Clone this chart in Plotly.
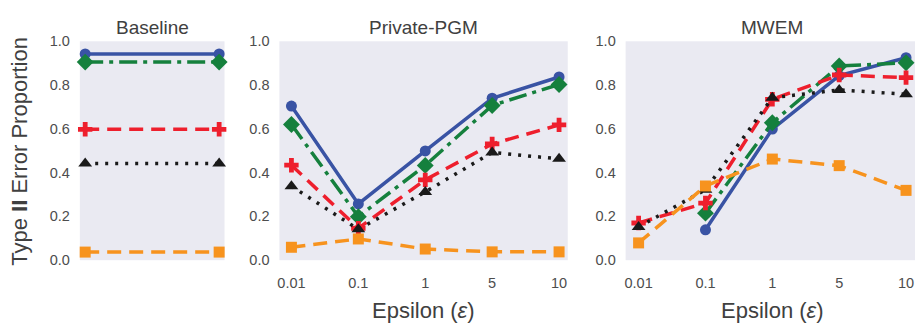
import plotly.graph_objects as go

# ---------------- data ----------------
eps_labels = ["0.01", "0.1", "1", "5", "10"]
baseline_x = [0, 1]

series_names = ["S1", "S2", "S3", "S4", "S5"]

baseline_blue = [0.942, 0.942]
baseline_green = [0.905, 0.905]
baseline_red = [0.598, 0.598]
baseline_black = [0.442, 0.442]
baseline_orange = [0.037, 0.037]

pgm_blue = [0.704, 0.257, 0.499, 0.740, 0.837]
pgm_green = [0.620, 0.199, 0.433, 0.707, 0.803]
pgm_red = [0.434, 0.146, 0.367, 0.531, 0.618]
pgm_black = [0.338, 0.141, 0.312, 0.492, 0.463]
pgm_orange = [0.059, 0.097, 0.051, 0.038, 0.038]

mwem_blue = [None, 0.139, 0.599, 0.843, 0.925]
mwem_green = [None, 0.215, 0.628, 0.887, 0.902]
mwem_red = [0.170, 0.261, 0.735, 0.846, 0.834]
mwem_black = [0.152, 0.322, 0.742, 0.778, 0.758]
mwem_orange = [0.079, 0.339, 0.462, 0.432, 0.319]

y_ticks = [0.0, 0.2, 0.4, 0.6, 0.8, 1.0]

# ---------------- styles ----------------
styles = [
    dict(color="#3953A4", dash="solid", symbol="circle", size=11),
    dict(color="#15803D", dash="18px,6px,4px,6px", symbol="diamond", size=13),
    dict(color="#EE1F2D", dash="14px,8px", symbol="cross", size=12),
    dict(color="#1A1A1A", dash="3px,7px", symbol="triangle-up", size=12),
    dict(color="#F7931E", dash="14px,8px", symbol="square", size=11),
]

panels = [
    ("x", "y", baseline_x, [baseline_blue, baseline_green, baseline_red, baseline_black, baseline_orange]),
    ("x2", "y2", list(range(len(eps_labels))), [pgm_blue, pgm_green, pgm_red, pgm_black, pgm_orange]),
    ("x3", "y3", list(range(len(eps_labels))), [mwem_blue, mwem_green, mwem_red, mwem_black, mwem_orange]),
]

fig = go.Figure()
for xa, ya, xs, ser in panels:
    for name, ys, st in zip(series_names, ser, styles):
        fig.add_trace(go.Scatter(
            x=xs, y=ys, xaxis=xa, yaxis=ya, name=name, mode="lines+markers",
            line=dict(color=st["color"], width=3.5, dash=st["dash"]),
            marker=dict(symbol=st["symbol"], size=st["size"], color=st["color"],
                        line=dict(width=0)),
            showlegend=False, connectgaps=False, cliponaxis=False,
        ))

W, H = 915, 331
top, bottom = 35, 265
yd = [1 - bottom / H, 1 - top / H]
font_fam = "Liberation Sans, Arial, sans-serif"
tick_font = dict(family=font_fam, size=14.5, color="#4D4D4D")

common_y = dict(range=[0, 1], tickvals=y_ticks, ticktext=[f"{v:.1f}" for v in y_ticks],
                showgrid=False, zeroline=False, showline=False, ticks="outside",
                ticklen=6, tickcolor="rgba(0,0,0,0)", tickfont=tick_font, fixedrange=True)
common_x = dict(showgrid=False, zeroline=False, showline=False, ticks="outside",
                ticklen=9, tickcolor="rgba(0,0,0,0)", tickfont=tick_font,
                ticklabeloverflow="allow")

fig.update_layout(
    width=W, height=H,
    margin=dict(l=0, r=0, t=0, b=0),
    paper_bgcolor="white",
    plot_bgcolor="#EAEAF2",
    font=dict(family=font_fam, color="#404040"),
    xaxis=dict(domain=[78 / W, 223 / W], range=[-0.04, 1.04], showticklabels=False,
               showgrid=False, zeroline=False, showline=False, ticks=""),
    yaxis=dict(domain=yd, anchor="x", **common_y),
    xaxis2=dict(domain=[278 / W, 567 / W], range=[-0.18, 4.13], tickvals=list(range(5)),
                ticktext=eps_labels, anchor="y2", **common_x),
    yaxis2=dict(domain=yd, anchor="x2", **common_y),
    xaxis3=dict(domain=[625 / W, 1.0], range=[-0.194, 4.134], tickvals=list(range(5)),
                ticktext=eps_labels, anchor="y3", **common_x),
    yaxis3=dict(domain=yd, anchor="x3", **common_y),
)

title_font = dict(family=font_fam, size=19, color="#404040")
for txt, cx in [("Baseline", 150.5), ("Private-PGM", 422.5), ("MWEM", 772)]:
    fig.add_annotation(text=txt, x=cx / W, y=1 - 20 / H, xref="paper", yref="paper",
                       showarrow=False, font=title_font, xanchor="center", yanchor="middle")

axis_title_font = dict(family=font_fam, size=22, color="#404040")
for cx in [422.5, 772]:
    fig.add_annotation(text="Epsilon (<i>ε</i>)", x=cx / W, y=1 - 318 / H, xref="paper",
                       yref="paper", showarrow=False, font=axis_title_font,
                       xanchor="center", yanchor="middle")

fig.add_annotation(text="Type <b>II</b> Error Proportion", x=18 / W, y=1 - 150 / H,
                   xref="paper", yref="paper", showarrow=False, textangle=-90,
                   font=axis_title_font, xanchor="center", yanchor="middle")

fig.write_html(
    "out.html",
    config={"displayModeBar": False},
    post_script="document.body.style.margin='0px';document.body.style.overflow='hidden';",
)
